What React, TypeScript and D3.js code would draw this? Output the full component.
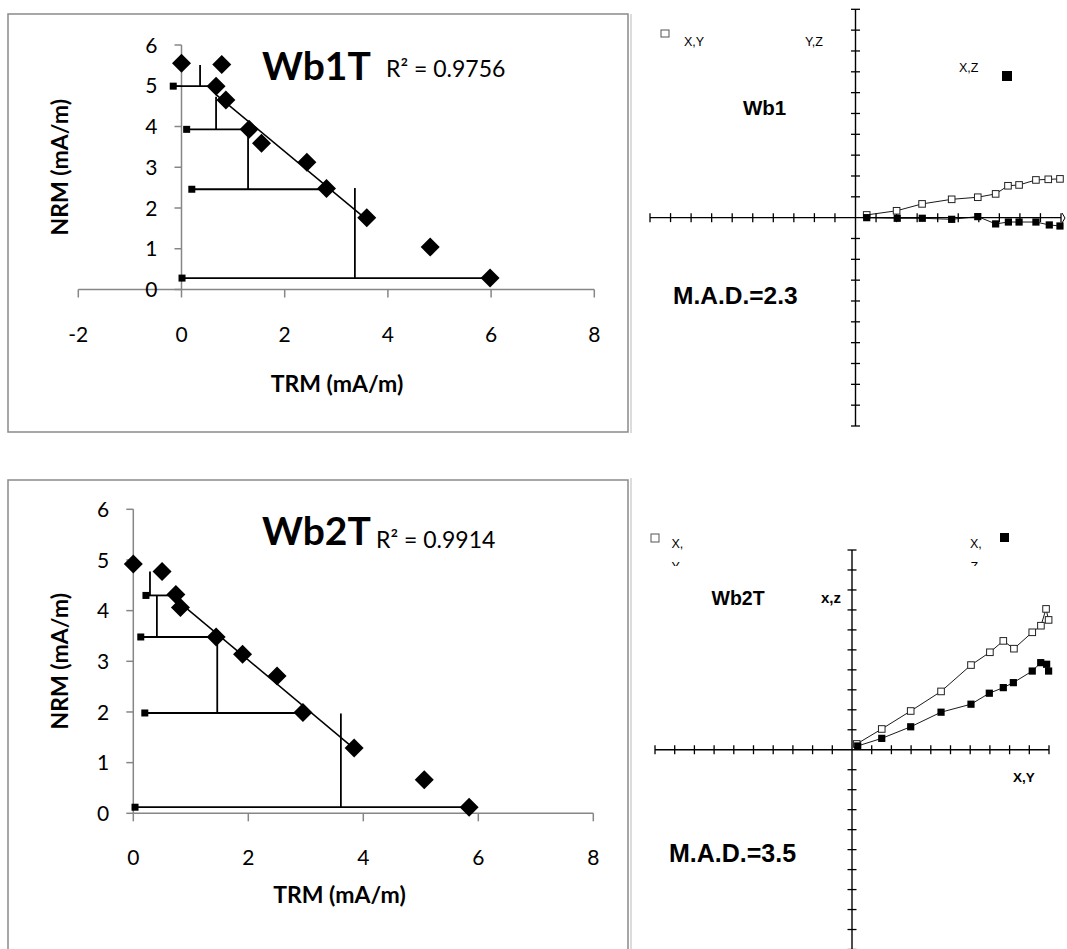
import React from "react";
import * as d3 from "d3";

// ---------- Data: Arai plots ----------
const araiTicksY = [0, 1, 2, 3, 4, 5, 6];
const arai1TicksX = [-2, 0, 2, 4, 6, 8];
const arai2TicksX = [0, 2, 4, 6, 8];

const wb1TRM = [0, 0.78, 0.67, 0.86, 1.31, 1.55, 2.43, 2.81, 3.59, 4.82, 5.98];
const wb1NRM = [5.55, 5.52, 4.99, 4.65, 3.93, 3.59, 3.12, 2.48, 1.76, 1.04, 0.28];
const wb1CheckX = [-0.16, 0.1, 0.2, 0.01];
const wb1CheckY = [4.99, 3.93, 2.46, 0.28];
const wb1CheckEnd = [0.67, 1.31, 2.81, 5.98];
const wb1VertX = [0.36, 0.67, 1.29, 3.36];
const wb1VertTop = [5.51, 4.73, 3.93, 2.49];

const wb2TRM = [0, 0.5, 0.74, 0.82, 1.44, 1.9, 2.5, 2.95, 3.84, 5.06, 5.84];
const wb2NRM = [4.92, 4.77, 4.32, 4.06, 3.48, 3.14, 2.71, 1.99, 1.29, 0.66, 0.12];
const wb2CheckX = [0.22, 0.13, 0.2, 0.03];
const wb2CheckY = [4.3, 3.48, 1.98, 0.12];
const wb2CheckEnd = [0.74, 1.44, 2.95, 5.84];
const wb2VertX = [0.29, 0.41, 1.46, 3.61];
const wb2VertTop = [4.77, 4.3, 3.48, 1.97];

// ---------- Data: Zijderveld plots ----------
const zijTicks = d3.range(-10, 11, 1);

const z1XYx = [0.545, 2.0, 3.24, 4.68, 5.95, 6.82, 7.42, 7.96, 8.78, 9.38, 9.95];
const z1XYy = [0.13, 0.33, 0.66, 0.88, 0.98, 1.14, 1.53, 1.57, 1.81, 1.84, 1.86];
const z1XZx = [0.545, 2.03, 3.25, 4.68, 5.95, 6.82, 7.44, 7.96, 8.78, 9.43, 9.95];
const z1XZy = [0.0, -0.03, -0.03, -0.08, 0.05, -0.3, -0.21, -0.21, -0.21, -0.35, -0.4];

const z2XYx = [0.24, 1.51, 2.98, 4.52, 6.04, 7.0, 7.68, 8.22, 9.15, 9.59, 9.85, 9.98];
const z2XYy = [0.29, 1.04, 1.94, 2.92, 4.24, 4.88, 5.45, 5.06, 5.88, 6.21, 7.05, 6.5];
const z2XZx = [0.29, 1.51, 2.98, 4.52, 6.04, 6.97, 7.68, 8.19, 9.15, 9.58, 9.88, 9.98];
const z2XZy = [0.19, 0.57, 1.15, 1.88, 2.28, 2.83, 3.11, 3.36, 3.94, 4.36, 4.28, 3.94];

const LATO = "Lato, 'Open Sans', sans-serif";
const ARIAL = "'Liberation Sans', Arial, sans-serif";

function fit(xs: number[], ys: number[]) {
  const mx = d3.mean(xs) as number;
  const my = d3.mean(ys) as number;
  let sxy = 0, sxx = 0;
  xs.forEach((x, i) => { sxy += (x - mx) * (ys[i] - my); sxx += (x - mx) * (x - mx); });
  const b = sxy / sxx;
  return { b, a: my - b * mx };
}

const diamond = (x: number, y: number, r: number) => `M${x},${y - r}L${x + r},${y}L${x},${y + r}L${x - r},${y}Z`;

type AraiProps = {
  box: [number, number, number, number];
  xDomain: [number, number]; xRange: [number, number]; yRange: [number, number];
  xTicks: number[];
  trm: number[]; nrm: number[]; fitFrom: number; fitTo: number;
  chkX: number[]; chkY: number[]; chkEnd: number[]; vX: number[]; vTop: number[];
  title: string; titleX: number; titleY: number;
  r2: string; r2X: number; r2Y: number;
  xTitleX: number; xTitleY: number; xLabelY: number;
};

function Arai(p: AraiProps) {
  const x = d3.scaleLinear().domain(p.xDomain).range(p.xRange);
  const y = d3.scaleLinear().domain([0, 6]).range(p.yRange);
  const ax = x(0);
  const ay = y(0);
  const xs = p.trm.slice(p.fitFrom, p.fitTo + 1);
  const ys = p.nrm.slice(p.fitFrom, p.fitTo + 1);
  const f = fit(xs, ys);
  const x0 = d3.min(xs) as number, x1 = d3.max(xs) as number;
  const axisCol = "#868686";
  const midY = (p.yRange[0] + p.yRange[1]) / 2;
  return (
    <g>
      <rect x={p.box[0]} y={p.box[1]} width={p.box[2]} height={p.box[3]} fill="white" stroke="#8a8a8a" strokeWidth={1.5} />
      <line x1={p.xRange[0]} x2={p.xRange[1]} y1={ay} y2={ay} stroke={axisCol} strokeWidth={1.5} />
      <line x1={ax} x2={ax} y1={y(0)} y2={y(6)} stroke={axisCol} strokeWidth={1.5} />
      {araiTicksY.map((t) => (
        <g key={"yt" + t}>
          <line x1={ax - 7} x2={ax} y1={y(t)} y2={y(t)} stroke={axisCol} strokeWidth={1.5} />
          <text x={ax - 24} y={y(t)} dy="0.36em" textAnchor="end" fontFamily={LATO} fontSize={21} fill="#000">{t}</text>
        </g>
      ))}
      {p.xTicks.map((t) => (
        <g key={"xt" + t}>
          <line x1={x(t)} x2={x(t)} y1={ay} y2={ay + 8} stroke={axisCol} strokeWidth={1.5} />
          <text x={x(t)} y={p.xLabelY} textAnchor="middle" fontFamily={LATO} fontSize={21} fill="#000">{t}</text>
        </g>
      ))}
      <line x1={x(x0)} y1={y(f.a + f.b * x0)} x2={x(x1)} y2={y(f.a + f.b * x1)} stroke="#000" strokeWidth={1.5} />
      {p.chkX.map((cx, i) => (
        <g key={"ck" + i}>
          <line x1={x(cx)} x2={x(p.chkEnd[i])} y1={y(p.chkY[i])} y2={y(p.chkY[i])} stroke="#000" strokeWidth={1.8} />
          <line x1={x(p.vX[i])} x2={x(p.vX[i])} y1={y(p.chkY[i])} y2={y(p.vTop[i])} stroke="#000" strokeWidth={1.8} />
          <rect x={x(cx) - 3.5} y={y(p.chkY[i]) - 3.5} width={7} height={7} fill="#000" />
        </g>
      ))}
      {p.trm.map((t, i) => (
        <path key={"d" + i} d={diamond(x(t), y(p.nrm[i]), 9.5)} fill="#000" />
      ))}
      <text x={p.titleX} y={p.titleY} fontFamily={LATO} fontWeight="bold" fontSize={39} fill="#000">{p.title}</text>
      <text x={p.r2X} y={p.r2Y} fontFamily={LATO} fontSize={23} fill="#000">{p.r2}</text>
      <text x={p.xTitleX} y={p.xTitleY} textAnchor="middle" fontFamily={LATO} fontWeight="bold" fontSize={23} fill="#000">TRM (mA/m)</text>
      <text transform={`translate(68,${midY}) rotate(-90)`} textAnchor="middle" fontFamily={LATO} fontWeight="bold" fontSize={23} fill="#000">NRM (mA/m)</text>
    </g>
  );
}

type ZijProps = {
  xRange: [number, number]; yRange: [number, number];
  ox: number[]; oy: number[]; fx: number[]; fy: number[];
};

function Zij(p: ZijProps) {
  const x = d3.scaleLinear().domain([-10, 10]).range(p.xRange);
  const y = d3.scaleLinear().domain([-10, 10]).range(p.yRange);
  const line = d3.line<[number, number]>().x((d) => x(d[0])).y((d) => y(d[1]));
  const open = p.ox.map((v, i) => [v, p.oy[i]] as [number, number]);
  const filled = p.fx.map((v, i) => [v, p.fy[i]] as [number, number]);
  return (
    <g>
      <line x1={x(-10)} x2={x(10)} y1={y(0)} y2={y(0)} stroke="#000" strokeWidth={1.4} />
      <line x1={x(0)} x2={x(0)} y1={y(-10)} y2={y(10)} stroke="#000" strokeWidth={1.4} />
      {zijTicks.filter((t) => t !== 0).map((t) => (
        <g key={t}>
          <line x1={x(t)} x2={x(t)} y1={y(0) - 4.5} y2={y(0) + 4.5} stroke="#000" strokeWidth={1.3} />
          <line x1={x(0) - 4.5} x2={x(0) + 4.5} y1={y(t)} y2={y(t)} stroke="#000" strokeWidth={1.3} />
        </g>
      ))}
      <path d={line(open) || ""} fill="none" stroke="#000" strokeWidth={0.9} />
      <path d={line(filled) || ""} fill="none" stroke="#000" strokeWidth={0.9} />
      {open.map((d, i) => (
        <rect key={"o" + i} x={x(d[0]) - 3.3} y={y(d[1]) - 3.3} width={6.6} height={6.6} fill="white" stroke="#222" strokeWidth={1} />
      ))}
      {filled.map((d, i) => (
        <rect key={"f" + i} x={x(d[0]) - 3.6} y={y(d[1]) - 3.6} width={7.2} height={7.2} fill="#000" />
      ))}
    </g>
  );
}

export default function App() {
  return (
    <svg width={1067} height={949} style={{ position: "absolute", left: 0, top: 0, background: "white" }}>
      <rect x={0} y={0} width={1067} height={949} fill="white" />
      <defs>
        <clipPath id="clipY2"><rect x={640} y={540} width={400} height={26} /></clipPath>
      </defs>
      <Arai
        box={[8, 14, 620, 418]}
        xDomain={[-2, 8]} xRange={[78.3, 594.3]} yRange={[289.5, 45]}
        xTicks={arai1TicksX}
        trm={wb1TRM} nrm={wb1NRM} fitFrom={2} fitTo={8}
        chkX={wb1CheckX} chkY={wb1CheckY} chkEnd={wb1CheckEnd} vX={wb1VertX} vTop={wb1VertTop}
        title="Wb1T" titleX={262} titleY={80}
        r2="R² = 0.9756" r2X={386} r2Y={77}
        xTitleX={337} xTitleY={392} xLabelY={342}
      />
      <Arai
        box={[8, 480, 620, 520]}
        xDomain={[0, 8]} xRange={[133.3, 593.3]} yRange={[813.3, 509.3]}
        xTicks={arai2TicksX}
        trm={wb2TRM} nrm={wb2NRM} fitFrom={2} fitTo={8}
        chkX={wb2CheckX} chkY={wb2CheckY} chkEnd={wb2CheckEnd} vX={wb2VertX} vTop={wb2VertTop}
        title="Wb2T" titleX={262} titleY={545}
        r2="R² = 0.9914" r2X={376} r2Y={548}
        xTitleX={339.5} xTitleY={903} xLabelY={865}
      />

      <line x1={631} x2={631} y1={14} y2={433} stroke="#dcdcdc" strokeWidth={2} />
      <line x1={631} x2={631} y1={478} y2={949} stroke="#dcdcdc" strokeWidth={2} />

      <Zij xRange={[650, 1061]} yRange={[426, 9.3]} ox={z1XYx} oy={z1XYy} fx={z1XZx} fy={z1XZy} />
      <rect x={661} y={30} width={8} height={7} fill="white" stroke="#555" strokeWidth={1} />
      <text x={684} y={46} fontFamily={ARIAL} fontSize={12.5} fill="#000">X,Y</text>
      <text x={805} y={46} fontFamily={ARIAL} fontSize={12.5} fill="#000">Y,Z</text>
      <text x={959} y={72} fontFamily={ARIAL} fontSize={12.5} fill="#000">X,Z</text>
      <rect x={1002} y={71} width={10} height={10} fill="#000" />
      <text x={743} y={114.5} fontFamily={ARIAL} fontWeight="bold" fontSize={20.5} fill="#000">Wb1</text>
      <text x={673} y={304} fontFamily={ARIAL} fontWeight="bold" fontSize={24.5} fill="#000">M.A.D.=2.3</text>
      <path d="M1062,213 L1065,218 L1062,223" fill="none" stroke="#000" strokeWidth={1} />

      <Zij xRange={[655, 1049]} yRange={[949.5, 550]} ox={z2XYx} oy={z2XYy} fx={z2XZx} fy={z2XZy} />
      <rect x={651} y={534} width={8} height={8} fill="white" stroke="#555" strokeWidth={1} />
      <text x={671.5} y={547.5} fontFamily={ARIAL} fontSize={12.5} fill="#000">X,</text>
      <text x={671.5} y={570.5} fontFamily={ARIAL} fontSize={12.5} fill="#000" clipPath="url(#clipY2)">Y</text>
      <text x={970} y={547.5} fontFamily={ARIAL} fontSize={12.5} fill="#000">X,</text>
      <text x={970.5} y={570.5} fontFamily={ARIAL} fontSize={12.5} fill="#000" clipPath="url(#clipY2)">Z</text>
      <rect x={1000} y={533} width={9} height={9} fill="#000" />
      <text x={711.5} y={605.3} fontFamily={ARIAL} fontWeight="bold" fontSize={19.5} fill="#000">Wb2T</text>
      <text x={821} y={603} fontFamily={ARIAL} fontWeight="bold" fontSize={15} fill="#000">x,z</text>
      <text x={1013} y={781.5} fontFamily={ARIAL} fontWeight="bold" fontSize={13.5} fill="#000">X,Y</text>
      <text x={669} y={862.3} fontFamily={ARIAL} fontWeight="bold" fontSize={25} fill="#000">M.A.D.=3.5</text>
    </svg>
  );
}
